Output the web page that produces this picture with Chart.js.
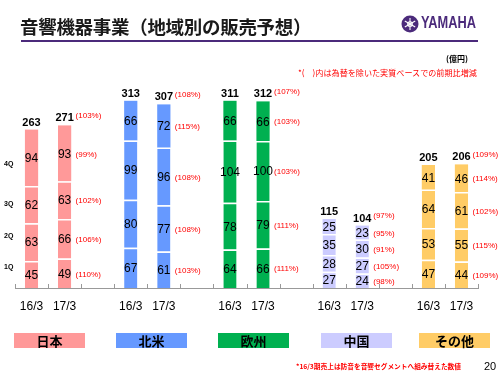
<!DOCTYPE html>
<html><head><meta charset="utf-8">
<script src="https://cdn.jsdelivr.net/npm/chart.js@4/dist/chart.umd.min.js"></script>
<style>
body{margin:0;width:500px;height:375px;position:relative;background:#fff;overflow:hidden;font-family:"Liberation Sans",Arial,sans-serif}
.t{position:absolute;white-space:nowrap}
.jp{font-family:"Noto Sans CJK JP","Noto Sans",sans-serif}
.lg{position:absolute;top:333px;width:71px;height:15px;line-height:15px;text-align:center;font-weight:bold;font-size:13px;color:#000}
.q{position:absolute;left:4px;font-size:7px;font-weight:bold;color:#000;line-height:8px}
</style></head>
<body>
<canvas id="c" width="500" height="375" style="position:absolute;left:0;top:0"></canvas>
<div class="t jp" style="left:20px;top:14px;font-size:18.5px;font-weight:bold;color:#1a1a1a;line-height:24px;letter-spacing:-0.3px">音響機器事業（地域別の販売予想）</div>
<div style="position:absolute;left:21px;top:40px;width:457px;height:2px;background:#4b2a7b"></div>
<svg style="position:absolute;left:401px;top:15px" width="18" height="18" viewBox="0 0 18 18">
<circle cx="9" cy="9" r="8.5" fill="#4b2a7b"/>
<g stroke="#fff" stroke-width="1.1" fill="none">
<line x1="9" y1="3" x2="9" y2="15"/><line x1="3.8" y1="6" x2="14.2" y2="12"/><line x1="3.8" y1="12" x2="14.2" y2="6"/>
<circle cx="9" cy="9" r="2.3"/>
</g></svg>
<div class="t" style="left:421px;top:14px;font-size:16px;font-weight:bold;color:#4b2a7b;line-height:18px;transform:scaleX(0.8);transform-origin:left top">YAMAHA</div>
<div class="t jp" style="left:446px;top:54px;font-size:8px;font-weight:bold;color:#000;line-height:10px">(億円)</div>
<div class="t jp" style="left:298px;top:68px;font-size:8.1px;color:#ff0000;line-height:10px">*(　)内は為替を除いた実質ベースでの前期比増減</div>
<div class="q" style="top:160px">4Q</div>
<div class="q" style="top:200px">3Q</div>
<div class="q" style="top:232px">2Q</div>
<div class="q" style="top:263px">1Q</div>
<div id="legend"></div>
<div class="t jp" style="left:296px;top:362px;font-size:6.7px;font-weight:bold;color:#ff0000;line-height:9px">*16/3期売上は防音を音響セグメントへ組み替えた数値</div>
<div class="t" style="left:484px;top:360px;font-size:11px;color:#000;line-height:13px">20</div>
<script>
const regions = ['日本','北米','欧州','中国','その他'];
const periods = ['16/3','17/3'];
const regionColors = ['#ff9999','#6699ff','#00b050','#ccccff','#ffcc66'];
// values per [region 16/3, region 17/3] in region order
const q1 = [45,49, 67,61, 64,66, 27,24, 47,44];
const q2 = [63,66, 80,77, 78,79, 28,27, 53,55];
const q3 = [62,63, 99,96, 104,100, 35,30, 64,61];
const q4 = [94,93, 66,72, 66,66, 25,23, 41,46];
const totals = [263,271, 313,307, 311,312, 115,104, 205,206];
// 17/3 year-on-year (%) per region
const pctQ1 = [110,103,111,98,109];
const pctQ2 = [106,108,111,105,115];
const pctQ3 = [102,108,103,91,102];
const pctQ4 = [99,115,103,95,114];
const pctTotal = [103,108,107,97,109];

const quarters = [q1,q2,q3,q4];
const pcts = [pctQ1,pctQ2,pctQ3,pctQ4];

// build slots: 16/3, 17/3, gap ...
const slotLabels = [], slotRegion = [], slotPeriod = [];
regions.forEach((r, ri) => {
  periods.forEach((p, pi) => { slotLabels.push(p); slotRegion.push(ri); slotPeriod.push(pi); });
  if (ri < regions.length - 1) { slotLabels.push(''); slotRegion.push(-1); slotPeriod.push(-1); }
});
const slotVal = (arr, i) => slotRegion[i] < 0 ? null : arr[slotRegion[i]*2 + slotPeriod[i]];

const datasets = quarters.map((q, qi) => ({
  label: (qi+1) + 'Q',
  data: slotLabels.map((_, i) => slotVal(q, i)),
  backgroundColor: slotLabels.map((_, i) => slotRegion[i] < 0 ? 'transparent' : regionColors[slotRegion[i]]),
  borderColor: 'rgba(255,255,255,0.85)',
  borderWidth: qi === 3 ? 0 : {top: 1.5, left: 0, right: 0, bottom: 0},
  borderSkipped: false,
  categoryPercentage: 1,
  barPercentage: 0.4
}));

const labelPlugin = {
  id: 'labels',
  afterDatasetsDraw(chart) {
    const ctx = chart.ctx;
    ctx.save();
    ctx.textAlign = 'center';
    ctx.textBaseline = 'middle';
    chart.data.datasets.forEach((ds, di) => {
      const meta = chart.getDatasetMeta(di);
      meta.data.forEach((el, i) => {
        const v = ds.data[i];
        if (v == null) return;
        const {x, y, base} = el.getProps(['x','y','base'], true);
        const cy = (y + base) / 2;
        ctx.fillStyle = '#000';
        ctx.font = '12px "Liberation Sans", Arial, sans-serif';
        ctx.textAlign = 'center';
        ctx.fillText(String(v), x, cy + 1);
        if (slotPeriod[i] === 1) {
          ctx.fillStyle = '#ff0000';
          ctx.font = '8px "Liberation Sans", Arial, sans-serif';
          ctx.textAlign = 'left';
          ctx.fillText('(' + pcts[di][slotRegion[i]] + '%)', x + 11, cy + 1);
        }
      });
    });
    const top = chart.getDatasetMeta(3);
    top.data.forEach((el, i) => {
      if (slotRegion[i] < 0) return;
      const {x, y} = el.getProps(['x','y'], true);
      const ty = y - 7;
      ctx.fillStyle = '#000';
      ctx.font = 'bold 11px "Liberation Sans", Arial, sans-serif';
      ctx.textAlign = 'center';
      ctx.fillText(String(totals[slotRegion[i]*2 + slotPeriod[i]]), x, ty);
      if (slotPeriod[i] === 1) {
        ctx.fillStyle = '#ff0000';
        ctx.font = '8px "Liberation Sans", Arial, sans-serif';
        ctx.textAlign = 'left';
        ctx.fillText('(' + pctTotal[slotRegion[i]] + '%)', x + 11, ty - 3);
      }
    });
    // small upward tick marks at slot boundaries
    const xs = chart.scales.x;
    ctx.strokeStyle = '#999';
    ctx.lineWidth = 1;
    for (let k = 0; k <= slotLabels.length; k++) {
      const px = Math.round(xs.getPixelForValue(k - 0.5)) + 0.5;
      ctx.beginPath();
      ctx.moveTo(px, xs.top - 4);
      ctx.lineTo(px, xs.top);
      ctx.stroke();
    }
    ctx.restore();
  }
};

new Chart(document.getElementById('c'), {
  type: 'bar',
  data: { labels: slotLabels, datasets },
  options: {
    responsive: false,
    animation: false,
    devicePixelRatio: 1,
    layout: { padding: { left: 15, right: 22, top: 78, bottom: 0 } },
    plugins: { legend: { display: false }, tooltip: { enabled: false } },
    scales: {
      x: {
        stacked: true,
        offset: true,
        grid: { display: true, drawOnChartArea: false, drawTicks: false },
        border: { display: true, color: '#999', width: 1 },
        ticks: { padding: 11, color: '#000', font: { size: 12, family: '"Liberation Sans", Arial, sans-serif' }, autoSkip: false, maxRotation: 0 },
        afterFit(scale) { scale.height = 87; }
      },
      y: { stacked: true, display: false, min: 0, max: 350 }
    }
  },
  plugins: [labelPlugin]
});

// legend boxes
const legendLefts = [14, 116, 218, 321, 419];
const lg = document.getElementById('legend');
regions.forEach((r, i) => {
  const d = document.createElement('div');
  d.className = 'lg jp';
  d.style.left = legendLefts[i] + 'px';
  d.style.background = regionColors[i];
  d.textContent = r;
  lg.appendChild(d);
});
</script>
</body></html>
